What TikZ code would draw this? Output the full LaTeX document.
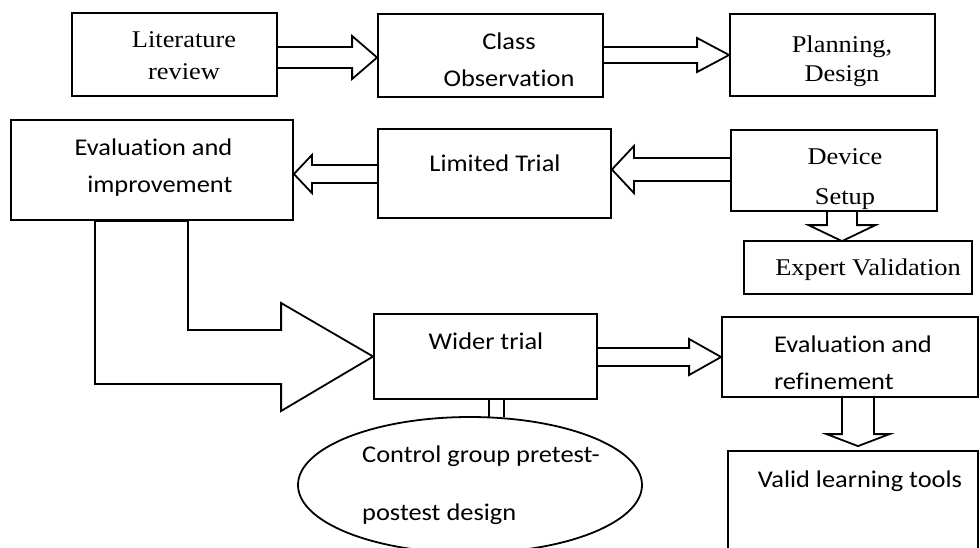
\documentclass[tikz,border=0pt]{standalone}
\usepackage{fontspec}
\setmainfont{Liberation Serif}[FakeStretch=1.1]
\newfontfamily\calibri{Carlito}[FakeStretch=1.1, Ligatures=NoCommon]
\usetikzlibrary{calc,shapes.geometric}

\tikzset{
  line/.style={draw=black, line width=1.8pt},
  box/.style={line, rectangle, inner sep=0pt},
  serif/.style={font=\fontsize{24}{#1}\selectfont, align=center},
  serif/.default=30,
  sans/.style={font=\calibri\fontsize{24}{#1}\selectfont, align=center},
  sans/.default=37,
  % block arrow between two points
  bshaft/.store in=\bshaft, bhead/.store in=\bhead, blen/.store in=\blen,
  blockarrow/.style={line, to path={let \p1=(\tikztostart), \p2=(\tikztotarget),
      \n1={atan2(\y2-\y1,\x2-\x1)} in
      ($(\p1)+(\n1+90:\bshaft pt)$)
      -- ($(\p2)+(\n1:-\blen pt)+(\n1+90:\bshaft pt)$)
      -- ($(\p2)+(\n1:-\blen pt)+(\n1+90:\bhead pt)$)
      -- (\p2)
      -- ($(\p2)+(\n1:-\blen pt)+(\n1-90:\bhead pt)$)
      -- ($(\p2)+(\n1:-\blen pt)+(\n1-90:\bshaft pt)$)
      -- ($(\p1)+(\n1-90:\bshaft pt)$)}},
}

\begin{document}
\begin{tikzpicture}[x=1pt, y=-1pt]
  \useasboundingbox (0,0) rectangle (980,547);
  \clip (0,0) rectangle (980,547);

  % first row
  \node[box, minimum width=205pt, minimum height=83pt,
    label={[serif=32, xshift=9.5pt, yshift=-1.5pt]center:{Literature\\review}}] (lit) at (174.5,54.5) {};
  \node[box, minimum width=225pt, minimum height=83pt,
    label={[sans=37, xshift=18.5pt, yshift=-4.5pt]center:{Class\\Observation}}] (cls) at (490.5,55.5) {};
  \node[box, minimum width=205pt, minimum height=82pt,
    label={[serif=29, xshift=9.5pt, yshift=-6pt]center:{Planning,\\Design}}] (plan) at (832.5,55) {};

  % second row
  \node[box, minimum width=282pt, minimum height=100pt,
    label={[sans=37, align=right, xshift=1.5pt, yshift=2pt]center:{Evaluation and\\improvement}}] (evi) at (152,170) {};
  \node[box, minimum width=233pt, minimum height=89pt,
    label={[sans, xshift=0.5pt, yshift=10pt]center:{Limited Trial}}] (lim) at (494.5,173.5) {};
  \node[box, minimum width=206pt, minimum height=81pt,
    label={[serif=40, xshift=11pt, yshift=-8.8pt]center:{Device\\Setup}}] (dev) at (834,170.5) {};
  \node[box, minimum width=228pt, minimum height=53pt,
    label={[serif, xshift=10pt, yshift=-1.9pt]center:{Expert Validation}}] (exp) at (858,267.5) {};

  % third row
  \node[box, minimum width=223pt, minimum height=85pt,
    label={[sans, xshift=0.5pt, yshift=15pt]center:{Wider trial}}] (wid) at (485.5,356.5) {};
  \node[box, minimum width=256pt, minimum height=80pt,
    label={[sans=37, align=left, xshift=3pt, yshift=-6pt]center:{Evaluation and\\refinement}}] (evr) at (850,357) {};
  \node[box, minimum width=250pt, minimum height=110pt,
    label={[sans, xshift=7pt, yshift=24.3pt]center:{Valid learning tools}}] (val) at (853,506) {};
  \node[line, ellipse, fill=white, inner sep=0pt, minimum width=344pt, minimum height=136pt,
    label={[sans=58, align=left, xshift=11pt, yshift=-0.5pt]center:{Control group pretest-\\postest design}}] (ctl) at (470,485) {};

  % block arrows
  \draw[blockarrow, bshaft=10.5, bhead=21.5, blen=25] ($(lit.east)+(0,3)$) to ($(cls.west)+(0,2)$);
  \draw[blockarrow, bshaft=8, bhead=17, blen=32] ($(cls.east)+(0,-0.5)$) to (plan.west);
  \draw[blockarrow, bshaft=9, bhead=19, blen=18] ($(lim.west)+(0,0.5)$) to ($(evi.east)+(0,4)$);
  \draw[blockarrow, bshaft=11.5, bhead=23.5, blen=22] ($(dev.west)+(0,-1)$) to ($(lim.east)+(0,-4)$);
  \draw[blockarrow, bshaft=15, bhead=33.5, blen=16] ($(dev.south)+(8,0)$) to ($(exp.north)+(-16,1)$);
  \draw[blockarrow, bshaft=9, bhead=18, blen=32] ($(wid.east)+(0,0.5)$) to (evr.west);
  \draw[blockarrow, bshaft=16, bhead=31.5, blen=12] ($(evr.south)+(8,0)$) to ($(val.north)+(5,-4)$);

  % bent arrow into the wider trial
  \draw[line] ($(evi.south)+(-57,0)$) |- ($(wid.west)+(-92,27.5)$) -- ++(0,27) -- (wid.west)
    -- ($(wid.west)+(-92,-53.5)$) -- ++(0,27) -| ($(evi.south)+(36,0)$) -- cycle;

  % stem to the design ellipse
  \draw[line] ($(ctl.north)+(19,0.5)$) -- ($(wid.south)+(3.5,0)$)
    ($(wid.south)+(18.5,0)$) -- ($(ctl.north)+(34,1.3)$);
\end{tikzpicture}
\end{document}
